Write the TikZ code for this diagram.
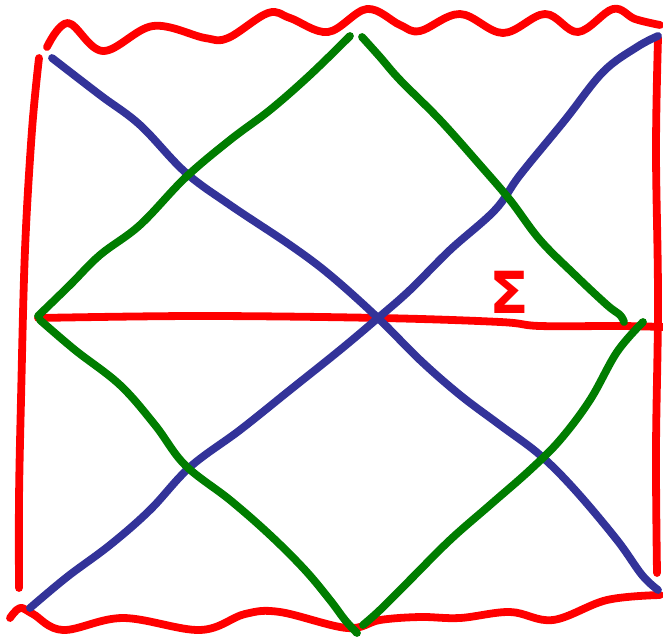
\documentclass[tikz,border=0pt]{standalone}
\usepackage{fontspec}
\newfontfamily\sigfont{DejaVu Sans}
\begin{document}
\begin{tikzpicture}[x=1pt,y=-1pt,
  stroke/.style={line width=7.8pt,line cap=round,line join=round},
  redline/.style={stroke,draw={rgb,255:red,255;green,0;blue,0}},
  blueline/.style={stroke,draw={rgb,255:red,51;green,51;blue,153}},
  greenline/.style={stroke,draw={rgb,255:red,0;green,125;blue,0}},
  lab/.style={text={rgb,255:red,255;green,0;blue,0},font=\sigfont\bfseries\fontsize{58}{58}\selectfont,inner sep=0pt}]
\useasboundingbox (0,0) rectangle (663,639);
% red boundaries
\draw[redline] plot[smooth,tension=0.6] coordinates {(47,47) (68,23) (103,51) (153,26) (205,38) (228,38) (268,13) (290,18) (328,32) (367,9) (400,25) (420,31) (460,14) (503,33) (545,14) (578,32) (613,9) (635,19) (660,25)};
\draw[redline] plot[smooth,tension=0.6] coordinates {(39,58) (32,130) (25,250) (21,400) (19,500) (19,588)};
\draw[redline] plot[smooth,tension=0.6] coordinates {(658,38) (656,150) (658,300) (656,450) (657,573)};
\draw[redline] plot[smooth,tension=0.6] coordinates {(10,618) (20,608) (33,614) (63,630) (123,618) (200,630) (245,614) (280,612) (347,628) (380,620) (420,617) (460,618) (510,612) (553,620) (607,600) (660,595)};
\draw[redline] plot[smooth,tension=0.6] coordinates {(38,318) (200,316) (380,318) (500,322) (540,326) (620,326) (663,327)};
% blue diagonals
\draw[blueline] plot[smooth,tension=0.6] coordinates {(52,58) (100,95) (140,125) (185,172) (230,205) (290,245) (330,275) (378,318) (420,360) (460,395) (500,425) (540,455) (575,490) (617,540) (642,575) (658,590)};
\draw[blueline] plot[smooth,tension=0.6] coordinates {(30,608) (67,577) (110,545) (150,510) (190,467) (240,430) (290,390) (340,350) (378,318) (410,290) (450,250) (495,210) (520,175) (565,120) (603,72) (637,47) (658,36)};
% green light rays
\draw[greenline] plot[smooth,tension=0.6] coordinates {(38,316) (70,285) (100,255) (140,225) (185,178) (230,140) (270,110) (310,75) (350,36)};
\draw[greenline] plot[smooth,tension=0.6] coordinates {(362,37) (380,57) (400,80) (440,120) (480,165) (510,200) (540,240) (575,275) (607,305) (620,315) (624,322)};
\draw[greenline] plot[smooth,tension=0.6] coordinates {(643,322) (617,352) (590,400) (560,440) (530,470) (490,505) (450,540) (410,580) (380,610) (363,625)};
\draw[greenline] plot[smooth,tension=0.6] coordinates {(40,320) (75,350) (120,385) (155,425) (185,465) (230,500) (270,535) (305,570) (330,600) (345,620) (357,633)};
% label
\node[lab] (sigma) at (509,292) {Σ};
\end{tikzpicture}
\end{document}
